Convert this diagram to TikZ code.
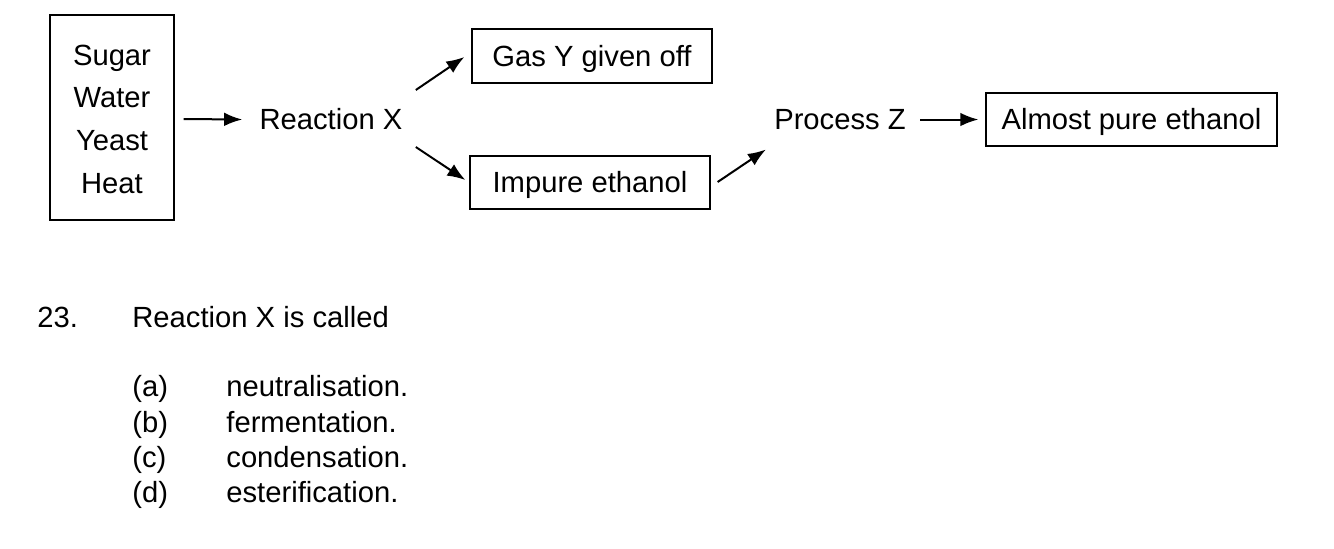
\documentclass[tikz,border=0pt]{standalone}
\usepackage{fontspec}
\setmainfont{Liberation Sans}
\usetikzlibrary{arrows.meta,calc}
\begin{document}
\begin{tikzpicture}[x=0.5pt,y=-0.5pt,
  every node/.style={font=\fontsize{14.6}{21.35}\selectfont, inner sep=0pt},
  box/.style={draw, line width=0.65pt, text height=13.45pt, text depth=3pt},
  arr/.style={-{Latex[length=9pt,width=6.8pt]}, line width=1pt}]
\useasboundingbox (0,0) rectangle (1334,548);
% diagram
\node[draw, line width=0.65pt, minimum width=62pt, minimum height=102.5pt] (in) at (112,117.5) {};
\node[align=center] (intext) at (112,119) {Sugar\\Water\\Yeast\\Heat};
\node (reac) at (331,119.5) {Reaction X};
\node[box, minimum width=120pt, minimum height=27pt] (gas) at (592,56) {Gas Y given off};
\node[box, minimum width=120pt, minimum height=26.5pt] (imp) at (590,182.5) {Impure ethanol};
\node (proc) at (840,119.5) {Process Z};
\node[box, minimum width=145.5pt, minimum height=26.5pt] (alm) at (1131.5,119.5) {Almost pure ethanol};
\draw[arr] ($(in.east)+(9,1.5)$) -- ($(reac.west)+(-17,0)$);
\draw[arr] ($(reac.east)+(13,-29.5)$) -- ($(gas.west)+(-7,1)$);
\draw[arr] ($(reac.east)+(13,27.5)$) -- ($(imp.west)+(-4,-2.5)$);
\draw[arr] ($(imp.east)+(7,-0.5)$) -- ($(proc.west)+(-8,30)$);
\draw[arr] ($(proc.east)+(14,0)$) -- ($(alm.west)+(-7,0)$);
% question
\node[anchor=base west] (qn) at (37,327) {23.};
\node[anchor=base west] (qt) at (132,327) {Reaction X is called};
\node[anchor=base west] (la) at (132,396.5) {(a)};
\node[anchor=base west] (ta) at (226,396.5) {neutralisation.};
\node[anchor=base west] (lb) at (132,432) {(b)};
\node[anchor=base west] (tb) at (226,432) {fermentation.};
\node[anchor=base west] (lc) at (132,467) {(c)};
\node[anchor=base west] (tc) at (226,467) {condensation.};
\node[anchor=base west] (ld) at (132,502) {(d)};
\node[anchor=base west] (td) at (226,502) {esterification.};
\end{tikzpicture}
\end{document}
